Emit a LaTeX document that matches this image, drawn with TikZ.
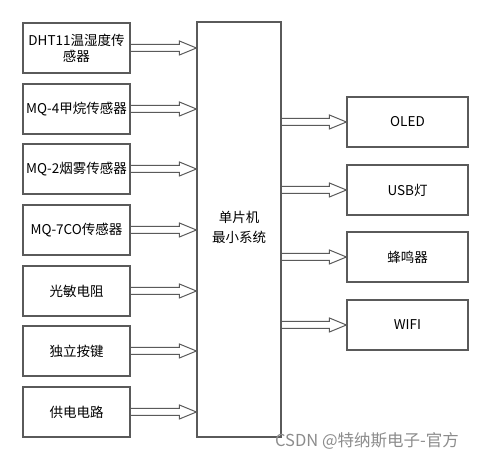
\documentclass[tikz,border=0pt]{standalone}
\usepackage{fontspec}
\setmainfont{Noto Sans CJK SC}
\usetikzlibrary{calc}
\definecolor{linegray}{HTML}{5A5A5A}
\definecolor{wmgray}{HTML}{8C8C8C}
\tikzset{
  box/.style={draw=linegray, line width=1.2pt, minimum width=107pt, minimum height=50pt,
    inner sep=2pt, align=center, font=\fontsize{13.5}{16}\selectfont},
  rbox/.style={box, minimum width=121pt},
  mcubox/.style={draw=linegray, line width=1.2pt, minimum width=84pt, minimum height=415pt},
  arr/.style={draw=linegray, line width=1pt, line join=miter}
}
\newcommand\blkarrow[2]{%
  \draw[arr] ($(#1)+(0,-3.5)$) -- ($(#2)+(-17,-3.5)$) -- ($(#2)+(-17,-7)$) -- (#2)
    -- ($(#2)+(-17,7)$) -- ($(#2)+(-17,3.5)$) -- ($(#1)+(0,3.5)$);}
\begin{document}
\begin{tikzpicture}[x=1pt,y=-1pt]
\useasboundingbox (0,0) rectangle (491,462);
% left boxes
\node[box] (s1) at (76.5,48)  {DHT11温湿度传\\感器};
\node[box] (s2) at (76.5,109) {MQ-4甲烷传感器};
\node[box] (s3) at (76.5,169) {MQ-2烟雾传感器};
\node[box] (s4) at (76.5,230) {MQ-7CO传感器};
\node[box] (s5) at (76.5,291) {光敏电阻};
\node[box] (s6) at (76.5,351) {独立按键};
\node[box] (s7) at (76.5,412) {供电电路};
% MCU
\node[mcubox] (mcu) at (239,229.5) {};
\node[font=\fontsize{13.5}{20}\selectfont, align=center] (mcut) at (239,227) {单片机\\最小系统};
% right boxes
\node[rbox] (o1) at (407.5,122) {OLED};
\node[rbox] (o2) at (407.5,190) {USB灯};
\node[rbox] (o3) at (407.5,257) {蜂鸣器};
\node[rbox] (o4) at (407.5,325) {WIFI};
% arrow targets
\foreach \i in {1,...,7} {\coordinate (t\i) at (s\i.east -| mcu.west);}
\foreach \i in {1,...,4} {\coordinate (u\i) at (o\i.west -| mcu.east);}
\foreach \i in {1,...,7} {\blkarrow{s\i.east}{t\i}}
\foreach \i in {1,...,4} {\blkarrow{u\i}{o\i.west}}
% watermark
\node[text=wmgray, font=\fontsize{16.5}{18}\selectfont, inner sep=0pt] (wm) at (367,441) {CSDN @特纳斯电子-官方};
\end{tikzpicture}
\end{document}
